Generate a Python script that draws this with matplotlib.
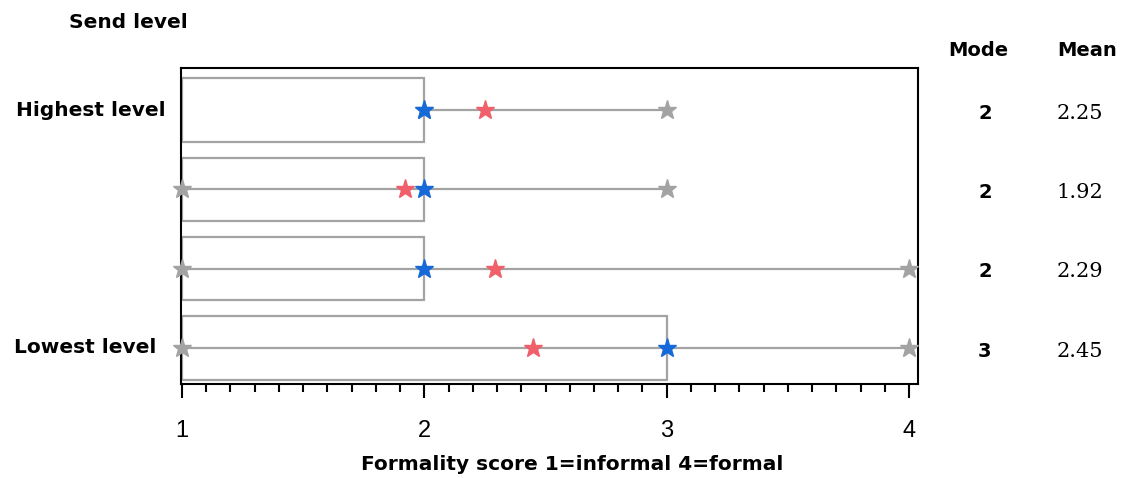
import matplotlib
matplotlib.use("Agg")
import matplotlib.pyplot as plt
from matplotlib.patches import Rectangle
from matplotlib.ticker import MultipleLocator

# ---- data ----
row_labels = ["Highest level", "", "", "Lowest level"]
row_pos = [4, 3, 2, 1]
mins = [2, 1, 1, 1]
maxs = [3, 3, 4, 4]
box_lo = [1, 1, 1, 1]
box_hi = [2, 2, 2, 3]
modes = [2, 2, 2, 3]
means = [2.25, 1.92, 2.29, 2.45]
mode_text = ["2", "2", "2", "3"]
mean_text = ["2.25", "1.92", "2.29", "2.45"]
xticks = [1, 2, 3, 4]

BLUE = "#1669d9"
RED = "#f0606a"
GREY = "#a3a3a3"

plt.rcParams['font.family'] = ['Liberation Sans', 'DejaVu Sans']
BOLD = ['DejaVu Sans']

fig = plt.figure(figsize=(11.25, 4.78), dpi=100)
ax = fig.add_axes([181/1125, 1-384/478, (918-181)/1125, (384-68)/478])

half = 0.40
for y, lo, hi, blo, bhi, mo, me in zip(row_pos, mins, maxs, box_lo, box_hi, modes, means):
    ax.plot([lo, hi], [y, y], color=GREY, lw=1.6, zorder=2, solid_capstyle='butt')
    ax.add_patch(Rectangle((blo, y-half), bhi-blo, 2*half, fill=False,
                           edgecolor=GREY, lw=1.6, zorder=2))
    ax.plot([lo, hi], [y, y], ls='none', marker='*', ms=14, color=GREY,
            mec=GREY, zorder=3, clip_on=False)
    ax.plot([me], [y], ls='none', marker='*', ms=14, color=RED, mec=RED,
            zorder=4, clip_on=False)
    ax.plot([mo], [y], ls='none', marker='*', ms=14, color=BLUE, mec=BLUE,
            zorder=5, clip_on=False)

ax.set_xlim(1 - 1/243, 4 + 9/243)
ax.set_ylim(1 - 0.454, 4 + 0.53)
ax.set_xticks(xticks)
ax.set_xticklabels([str(t) for t in xticks], fontsize=17)
ax.xaxis.set_minor_locator(MultipleLocator(0.1))
ax.tick_params(axis='x', which='major', direction='out', length=10, width=1.5, pad=16)
ax.tick_params(axis='x', which='minor', direction='out', length=6, width=1.5)
ax.set_yticks([])
for s in ax.spines.values():
    s.set_linewidth(1.5)

ax.set_xlabel("Formality score 1=informal 4=formal", fontsize=14.5, fontweight='bold',
              family=BOLD)
ax.xaxis.set_label_coords((572-181)/737, -(465-384)/316)
ax.xaxis.label.set_va('center')

# row labels
ax.text(1 - 16/243, row_pos[0], row_labels[0], ha='right', va='center',
        fontsize=14.5, fontweight='bold', family=BOLD)
ax.text(1 - 26/243, row_pos[3], row_labels[3], ha='right', va='center',
        fontsize=14.5, fontweight='bold', family=BOLD)

fig.text(128/1125, 1-22/478, "Send level", ha='center', va='center',
         fontsize=14.5, fontweight='bold', family=BOLD)

# Mode / Mean columns
fig.text(978/1125, 1-50/478, "Mode", ha='center', va='center', fontsize=14,
         fontweight='bold', family=BOLD)
fig.text(1087/1125, 1-50/478, "Mean", ha='center', va='center', fontsize=14,
         fontweight='bold', family=BOLD)
for y, mt, mn in zip(row_pos, mode_text, mean_text):
    ax.text(4 + (985-909)/243, y - 0.04, mt, ha='center', va='center',
            fontsize=14, fontweight='bold', family=BOLD, clip_on=False)
    ax.text(4 + (1080-909)/243, y - 0.04, mn, ha='center', va='center',
            fontsize=15, family=['DejaVu Serif'], clip_on=False)

fig.savefig("out.png", dpi=100)
